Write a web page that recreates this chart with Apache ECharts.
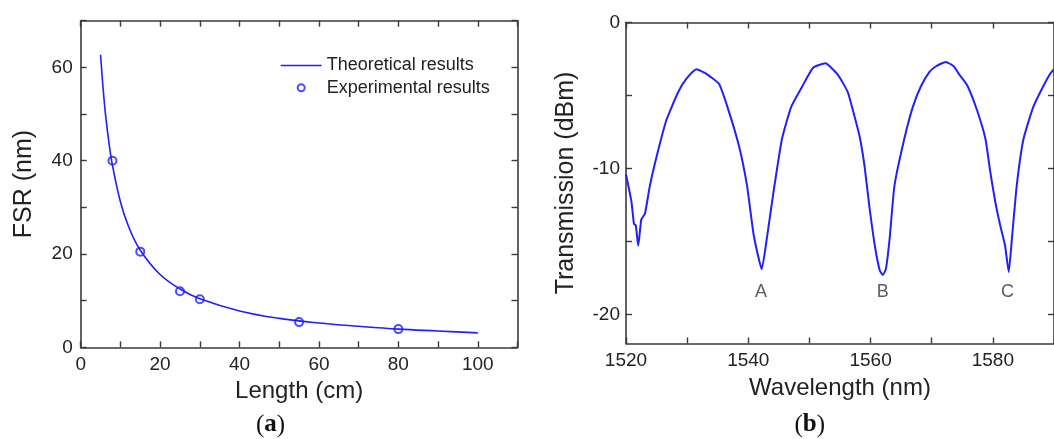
<!DOCTYPE html>
<html>
<head>
<meta charset="utf-8">
<script src="https://cdn.jsdelivr.net/npm/echarts@6/dist/echarts.min.js"></script>
<style>
  html, body { margin: 0; padding: 0; background: #fff; }
  #main { width: 1054px; height: 439px; }
</style>
</head>
<body>
<div id="main"></div>
<script>
//---------------- (a) FSR vs length ----------------//
var lenTheory = [5, 6, 7, 8, 10, 12, 15, 20, 25, 30, 40, 50, 60, 70, 80, 90, 100];
var fsrTheory = [62.7, 52, 44.6, 39, 31.2, 26, 20.8, 15.6, 12.5, 10.4, 7.8, 6.2, 5.2, 4.5, 3.9, 3.5, 3.1];
var lenExp = [8, 15, 25, 30, 55, 80];
var fsrExp = [40, 20.5, 12, 10.3, 5.4, 3.9];

var aTicksX = [0, 10, 20, 30, 40, 50, 60, 70, 80, 90, 100, 110];
var aLabelsX = [0, 20, 40, 60, 80, 100];
var aTicksY = [0, 10, 20, 30, 40, 50, 60, 70];
var aLabelsY = [0, 20, 40, 60];

//---------------- (b) transmission spectrum ----------------//
var wl = [1520.0, 1520.9, 1521.3, 1521.6, 1522.0, 1522.5, 1523.1, 1523.9, 1525.0, 1526.6,
  1528.5, 1529.8, 1531.5, 1533.1, 1535.2, 1536.6, 1538.5, 1539.8, 1540.9, 1542.2,
  1543.1, 1544.2, 1545.5, 1547.0, 1548.8, 1550.6, 1552.6, 1554.7, 1556.3, 1557.1,
  1558.2, 1559.0, 1559.8, 1560.7, 1561.5, 1562.0, 1562.5, 1563.1, 1563.9, 1565.5,
  1566.9, 1568.2, 1569.6, 1570.7, 1572.3, 1573.6, 1574.4, 1575.8, 1577.4, 1578.8,
  1579.6, 1580.4, 1581.2, 1582.0, 1582.6, 1583.1, 1583.9, 1585.0, 1586.6, 1588.2,
  1589.4, 1590.0];
var trans = [-10.4, -12.3, -13.8, -13.9, -15.3, -13.5, -13.1, -11.2, -9.2, -6.7,
  -4.8, -3.9, -3.2, -3.5, -4.2, -5.8, -8.5, -11.2, -14.6, -16.9,
  -14.6, -11.4, -8.0, -5.8, -4.4, -3.1, -2.8, -3.6, -4.8, -6.0,
  -7.8, -9.8, -12.6, -15.3, -17.0, -17.3, -16.9, -14.9, -11.2, -8.0,
  -5.8, -4.4, -3.4, -3.0, -2.7, -3.0, -3.5, -4.3, -6.0, -8.0,
  -10.3, -12.3, -13.9, -15.3, -17.1, -14.9, -11.2, -8.0, -5.8, -4.4,
  -3.5, -3.2];
var dipNames = ['A', 'B', 'C'];
var dipWl = [1542.1, 1562.0, 1582.4];
var dipLabelT = [-18.45, -18.45, -18.45];

var bTicksX = [1520, 1530, 1540, 1550, 1560, 1570, 1580, 1590];
var bLabelsX = [1520, 1540, 1560, 1580];
var bTicksY = [-20, -15, -10, -5, 0];
var bLabelsY = [-20, -10, 0];

var blue = '#1f1fff';
var ink = '#222';
var sans = "'Liberation Sans', Arial, sans-serif";

function pairs(xs, ys) {
  return xs.map(function (x, i) { return [x, ys[i]]; });
}

// one side of the boxed frame, ticks pointing inside
function frameAxis(opt) {
  var ax = {
    type: 'value',
    gridIndex: opt.grid,
    position: opt.position,
    min: opt.min,
    max: opt.max,
    splitLine: { show: false },
    axisLine: { show: true, onZero: false, lineStyle: { color: '#3a3a3a', width: 1.6 } },
    axisTick: { show: true, inside: true, length: 6, customValues: opt.ticks,
      lineStyle: { color: '#3a3a3a', width: 1.4 } },
    axisLabel: { show: false }
  };
  if (opt.labels) {
    ax.axisLabel = { show: true, customValues: opt.labels, margin: opt.margin,
      formatter: function (v) { return String(v); },
      color: ink, fontSize: 19, fontFamily: sans };
  }
  if (opt.name) {
    ax.name = opt.name;
    ax.nameLocation = 'middle';
    ax.nameGap = opt.nameGap;
    ax.nameTextStyle = { color: ink, fontSize: opt.nameSize, fontFamily: sans };
  }
  return ax;
}

function caption(x, letter) {
  return { type: 'text', x: x, y: 425, style: { text: '{p|(}{b|' + letter + '}{p|)}',
    align: 'center', verticalAlign: 'middle',
    rich: { p: { font: "25px 'Liberation Serif', serif", fill: '#111' },
      b: { font: "bold 25px 'Liberation Serif', serif", fill: '#111' } } } };
}

var chart = echarts.init(document.getElementById('main'));

var option = {
  animation: false,
  backgroundColor: '#fff',
  grid: [
    { left: 80.7, top: 20.7, width: 436.8, height: 326.6 },
    { left: 626, top: 22.5, width: 432, height: 321 }
  ],
  xAxis: [
    frameAxis({ grid: 0, position: 'bottom', min: 0, max: 110, ticks: aTicksX, labels: aLabelsX,
      margin: 8, name: 'Length (cm)', nameGap: 30, nameSize: 24 }),
    frameAxis({ grid: 0, position: 'top', min: 0, max: 110, ticks: aTicksX }),
    frameAxis({ grid: 1, position: 'bottom', min: 1520, max: 1590, ticks: bTicksX, labels: bLabelsX,
      margin: 8, name: 'Wavelength (nm)', nameGap: 33, nameSize: 24 }),
    frameAxis({ grid: 1, position: 'top', min: 1520, max: 1590, ticks: bTicksX })
  ],
  yAxis: [
    frameAxis({ grid: 0, position: 'left', min: 0, max: 70, ticks: aTicksY, labels: aLabelsY,
      margin: 8, name: 'FSR (nm)', nameGap: 44, nameSize: 25 }),
    frameAxis({ grid: 0, position: 'right', min: 0, max: 70, ticks: aTicksY }),
    frameAxis({ grid: 1, position: 'left', min: -22, max: 0, ticks: bTicksY, labels: bLabelsY,
      margin: 6, name: 'Transmission (dBm)', nameGap: 47, nameSize: 25 }),
    frameAxis({ grid: 1, position: 'right', min: -22, max: 0, ticks: bTicksY })
  ],
  legend: {
    orient: 'vertical',
    left: 280.7,
    top: 56.5,
    padding: 0,
    itemWidth: 41,
    itemHeight: 7,
    itemGap: 4.3,
    symbolKeepAspect: true,
    textStyle: { color: ink, fontSize: 18, lineHeight: 18, fontFamily: sans },
    data: [
      // thin bar path keeps its aspect, so it stays a 1.6px line
      { name: 'Theoretical results', icon: 'path://M0,0H41V1.6H0Z' },
      { name: 'Experimental results', icon: 'emptyCircle' }
    ]
  },
  graphic: [caption(270.5, 'a'), caption(809.7, 'b')],
  series: [
    {
      name: 'Theoretical results',
      type: 'line',
      xAxisIndex: 0, yAxisIndex: 0,
      symbol: 'none',
      smooth: 0.4,
      lineStyle: { color: blue, width: 1.6 },
      itemStyle: { color: blue },
      data: pairs(lenTheory, fsrTheory)
    },
    {
      name: 'Experimental results',
      type: 'scatter',
      xAxisIndex: 0, yAxisIndex: 0,
      symbol: 'emptyCircle',
      symbolSize: 8,
      itemStyle: { color: blue, borderColor: blue, borderWidth: 1.6 },
      data: pairs(lenExp, fsrExp)
    },
    {
      name: 'spectrum',
      type: 'line',
      xAxisIndex: 2, yAxisIndex: 2,
      symbol: 'none',
      smooth: 0.15,
      lineStyle: { color: blue, width: 2 },
      data: pairs(wl, trans)
    },
    {
      name: 'dips',
      type: 'scatter',
      xAxisIndex: 2, yAxisIndex: 2,
      symbolSize: 0,
      silent: true,
      label: { show: true, position: 'inside', formatter: '{b}', color: '#333', fontSize: 18, fontFamily: sans },
      data: dipNames.map(function (n, i) { return { name: n, value: [dipWl[i], dipLabelT[i]] }; })
    }
  ]
};

chart.setOption(option);
</script>
</body>
</html>
